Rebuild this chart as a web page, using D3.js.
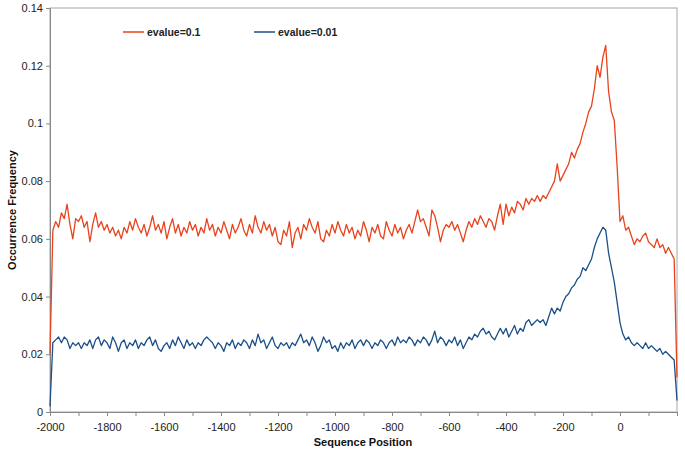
<!DOCTYPE html>
<html><head><meta charset="utf-8">
<script src="https://cdn.jsdelivr.net/npm/d3@7"></script>
<style>body{margin:0;background:#fff}svg{display:block;font-family:"Liberation Sans",Arial,sans-serif}</style>
</head><body><svg id="c" width="685" height="450"></svg>
<script>
const seriesNames = ["evalue=0.1", "evalue=0.01"];
const xTickLabels = ["-2000","-1800","-1600","-1400","-1200","-1000","-800","-600","-400","-200","0"];
const yTickLabels = ["0","0.02","0.04","0.06","0.08","0.1","0.12","0.14"];
const positions = d3.range(-2000, 201, 10);
const red = [
0.020,0.063,0.066,0.064,0.069,0.067,0.072,0.065,0.060,0.067,
0.066,0.068,0.064,0.066,0.059,0.065,0.069,0.064,0.066,0.063,
0.065,0.062,0.064,0.061,0.063,0.060,0.064,0.062,0.066,0.063,
0.067,0.064,0.062,0.065,0.061,0.064,0.068,0.063,0.065,0.062,
0.066,0.060,0.064,0.067,0.062,0.065,0.061,0.064,0.062,0.066,
0.063,0.065,0.061,0.064,0.062,0.067,0.063,0.065,0.061,0.064,
0.062,0.066,0.063,0.060,0.065,0.062,0.064,0.067,0.063,0.061,
0.065,0.062,0.068,0.064,0.062,0.066,0.063,0.065,0.061,0.064,
0.059,0.058,0.063,0.061,0.066,0.057,0.062,0.064,0.060,0.065,
0.063,0.067,0.064,0.062,0.066,0.060,0.059,0.063,0.061,0.065,
0.062,0.066,0.063,0.061,0.065,0.062,0.064,0.060,0.063,0.061,
0.066,0.063,0.059,0.064,0.062,0.065,0.061,0.060,0.066,0.063,
0.061,0.065,0.062,0.064,0.060,0.063,0.065,0.062,0.066,0.070,
0.066,0.067,0.064,0.061,0.070,0.068,0.064,0.059,0.063,0.065,
0.064,0.066,0.063,0.065,0.062,0.059,0.063,0.066,0.064,0.067,
0.065,0.068,0.066,0.064,0.067,0.066,0.063,0.068,0.072,0.065,
0.072,0.068,0.071,0.069,0.073,0.072,0.070,0.074,0.072,0.074,
0.073,0.075,0.073,0.075,0.074,0.076,0.078,0.080,0.086,0.080,
0.082,0.084,0.086,0.090,0.088,0.091,0.093,0.097,0.100,0.104,
0.106,0.112,0.120,0.116,0.123,0.127,0.111,0.104,0.101,0.085,
0.066,0.068,0.063,0.064,0.061,0.058,0.060,0.059,0.061,0.062,
0.059,0.058,0.057,0.060,0.057,0.058,0.055,0.057,0.055,0.053,
0.012];
const blue = [
0.002,0.024,0.025,0.026,0.024,0.026,0.025,0.022,0.024,0.023,
0.024,0.022,0.024,0.023,0.025,0.022,0.025,0.026,0.023,0.025,
0.024,0.022,0.026,0.024,0.021,0.024,0.025,0.022,0.024,0.023,
0.025,0.022,0.024,0.023,0.025,0.026,0.023,0.025,0.022,0.021,
0.023,0.024,0.022,0.025,0.023,0.026,0.024,0.022,0.025,0.023,
0.024,0.022,0.024,0.023,0.025,0.026,0.025,0.024,0.022,0.024,
0.023,0.021,0.024,0.023,0.025,0.022,0.024,0.023,0.025,0.024,
0.022,0.025,0.023,0.027,0.024,0.025,0.022,0.024,0.026,0.023,
0.022,0.024,0.023,0.024,0.022,0.024,0.023,0.025,0.027,0.024,
0.025,0.023,0.026,0.024,0.021,0.023,0.026,0.024,0.025,0.022,
0.023,0.021,0.024,0.022,0.024,0.023,0.025,0.022,0.024,0.025,
0.023,0.025,0.024,0.022,0.024,0.023,0.025,0.024,0.022,0.024,
0.025,0.023,0.026,0.024,0.025,0.024,0.026,0.025,0.023,0.025,
0.024,0.026,0.025,0.023,0.025,0.028,0.024,0.026,0.025,0.023,
0.025,0.024,0.026,0.023,0.025,0.022,0.024,0.026,0.025,0.027,
0.026,0.028,0.029,0.027,0.028,0.026,0.025,0.027,0.029,0.027,
0.029,0.026,0.028,0.030,0.027,0.029,0.028,0.031,0.032,0.030,
0.031,0.032,0.031,0.032,0.030,0.033,0.036,0.034,0.036,0.035,
0.038,0.040,0.041,0.043,0.044,0.046,0.047,0.050,0.049,0.051,
0.053,0.057,0.060,0.062,0.064,0.063,0.055,0.050,0.045,0.038,
0.031,0.027,0.025,0.026,0.024,0.023,0.024,0.023,0.022,0.024,
0.022,0.023,0.022,0.021,0.022,0.020,0.021,0.020,0.019,0.018,
0.004];
const colors = ["#E8431C", "#1A4F88"];

const svg = d3.select("#c");
const L = 50, R = 677, T = 8, B = 412;
const x = d3.scaleLinear().domain([-2000, 200]).range([L, R]);
const y = d3.scaleLinear().domain([0, 0.14]).range([B, T]);

// frame
svg.append("rect").attr("x", L).attr("y", T).attr("width", R - L).attr("height", B - T)
  .attr("fill", "none").attr("stroke", "#a6a6a6").attr("stroke-width", 1);

// x axis
const xa = svg.append("g").attr("transform", `translate(0,${B})`)
  .call(d3.axisBottom(x).tickValues(d3.range(-2000, 201, 100)).tickSize(4)
    .tickFormat(d => { const s = String(d); return xTickLabels.includes(s) ? s : ""; }));
xa.select(".domain").attr("stroke", "#888");
xa.selectAll(".tick line").attr("stroke", "#888");
xa.selectAll("text").attr("font-size", 11).attr("fill", "#222").attr("dy", "1.05em")
  .attr("font-family", "Liberation Sans, Arial, sans-serif");

// y axis
const ya = svg.append("g").attr("transform", `translate(${L},0)`)
  .call(d3.axisLeft(y).tickValues(yTickLabels.map(Number)).tickSize(4)
    .tickFormat((d, i) => yTickLabels[i]));
ya.select(".domain").attr("stroke", "#888");
ya.selectAll(".tick line").attr("stroke", "#888");
ya.selectAll("text").attr("font-size", 11).attr("fill", "#222").attr("x", -7)
  .attr("font-family", "Liberation Sans, Arial, sans-serif");

// lines
const line = d3.line().x((d, i) => x(positions[i])).y(d => y(d));
[red, blue].forEach((s, k) => {
  svg.append("path").attr("d", line(s)).attr("fill", "none")
    .attr("stroke", colors[k]).attr("stroke-width", 1.3).attr("stroke-linejoin", "round");
});

// legend
const lg = [{x1: 123, tx: 147}, {x1: 254, tx: 278}];
lg.forEach((p, k) => {
  svg.append("line").attr("x1", p.x1).attr("x2", p.x1 + 21).attr("y1", 32).attr("y2", 32)
    .attr("stroke", colors[k]).attr("stroke-width", 1.5);
  svg.append("text").attr("x", p.tx).attr("y", 36).attr("font-size", 10.5).attr("font-weight", "bold")
    .attr("fill", "#222").text(seriesNames[k]);
});

// axis titles
svg.append("text").attr("x", 363).attr("y", 446).attr("text-anchor", "middle")
  .attr("font-size", 11).attr("font-weight", "bold").attr("fill", "#111").text("Sequence Position");
svg.append("text").attr("transform", "translate(16,210) rotate(-90)").attr("text-anchor", "middle")
  .attr("font-size", 11).attr("font-weight", "bold").attr("fill", "#111").text("Occurrence Frequency");
</script></body></html>
